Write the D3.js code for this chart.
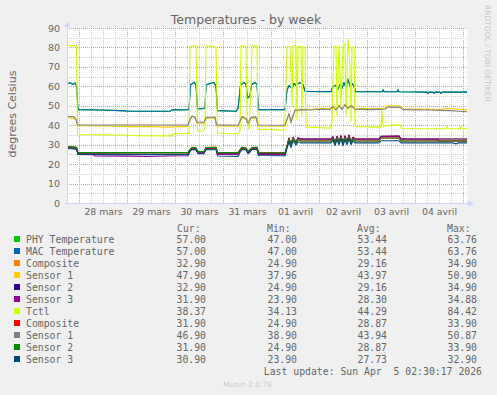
<!DOCTYPE html>
<html><head><meta charset="utf-8">
<script src="https://cdn.jsdelivr.net/npm/d3@7/dist/d3.min.js"></script>
<style>html,body{margin:0;padding:0;background:#f0f0f0;}svg{display:block;}</style>
</head><body>
<script>
// ---------- data (hours since 27 mars 18:00, value °C) ----------
const dayLabels = ["28 mars","29 mars","30 mars","31 mars","01 avril","02 avril","03 avril","04 avril"];
const yTicks = [0,10,20,30,40,50,60,70,80,90];

const macTemp = [[0,61.2],[1.5,61.8],[3,61],[4,61.8],[4.75,60.5],[5.5,48],[16.5,47.8],[26.5,47.5],[31.5,47.2],[51.5,47.2],[52.5,47.9],[61,48],[61.75,60.8],[63.5,62],[64.5,60.8],[65.25,48.5],[68,48.5],[69,49],[69.5,60.8],[71.5,61.5],[73.5,62],[74.5,60],[75.25,47.5],[84.5,47.2],[85.5,48.5],[86.75,60.5],[88.5,62],[89.5,61],[90.25,54],[91.5,55],[92.25,60.8],[94,62],[95,61],[95.75,48],[109,48],[110,58],[111,60.5],[112.5,59],[113.5,61.5],[114.5,60.5],[116.5,62],[118,61],[119,57.4],[132,57.3],[133,60],[134.5,60.5],[135.5,58.5],[136.5,61],[137.5,59],[138.5,62],[139.5,59],[140.5,63.7],[141.5,60],[142.5,61.5],[143.5,60],[144.25,57.3],[157.5,57.2],[158,58.2],[158.5,57.2],[165,57.2],[165.5,58.2],[166,57.2],[180,57],[180.5,56.3],[181,57],[183,57],[183.5,56.3],[184,57],[186.5,57],[187,56.3],[187.5,57],[200,57]];
const phyTemp = macTemp.map(d => d.slice());

const tctl = [[0,81],[4.75,80.8],[5.25,35.2],[26.5,35],[36.5,34.6],[52.5,34.5],[53,35.6],[61,35.8],[61.5,80.5],[64.5,80.8],[65.25,38],[65.5,37],[68,37],[69,38.5],[69.5,80.8],[73,80.5],[74.5,80],[75.25,36],[85.5,35.5],[86.5,37],[87,80.8],[89.5,80.5],[90,45],[91,38],[92,60],[92.5,80.8],[95,80.8],[95.5,38],[108,37.5],[109,41],[110,80.5],[111.5,80.5],[112.5,50],[113,81],[114.5,81],[115,43],[115.5,80.5],[117,80.5],[117.5,45],[118,80.5],[119,80],[119.5,39],[131.5,38.5],[132.5,42],[133.5,80.5],[134.5,81],[135,45],[136,81],[137,50],[138,80.5],[139,82],[139.5,45],[140.5,84.4],[141.5,70],[142,42],[142.5,80.5],[143.5,80],[144,40],[144.5,39.3],[157,39],[157.5,47.5],[158,39.5],[159.5,39.5],[160.5,40],[166.5,40.2],[167.5,38.3],[189.5,38.2],[190,39.5],[190.5,38.2],[196.5,38.2],[197,39.5],[197.5,38.3],[200,38.4]];

const sensor1A = [[0,44.3],[4.5,43],[5.25,39.7],[20,39.6],[30,39.3],[40,39.4],[50,39],[60.5,39.4],[61.5,42.5],[62.5,44.5],[64,43.8],[65,41],[68.5,41],[69.5,43.5],[74,43.8],[74.75,39.6],[85.5,39.5],[86.5,41.5],[87.5,44],[89.5,43],[90.5,40.5],[92,43.5],[94.5,43.8],[95.5,39.6],[109,39.5],[110,42.5],[111,45.5],[112,41],[113,44.5],[114,48],[121.5,48.2],[126.5,48.6],[131.5,48.5],[133,50],[134.5,48.2],[136,50.3],[137.5,48.5],[139,50.9],[140.5,49],[142,50.4],[144,48.7],[151.5,48.5],[159,48.8],[160.5,50],[166.5,50],[168,48.5],[181,48.3],[185,47.9],[190,48.6],[200,47.9]];
const sensor1B = [[0,44.6],[3.5,44.3],[4.5,43],[5.25,40.2],[60.5,40.1],[61.5,43],[62.5,44.8],[64,44],[65,41.5],[68.5,41.5],[69.5,44],[74,44.2],[74.75,40.2],[85.5,40],[86.5,42],[87.5,44.5],[89.5,43.5],[90.5,41],[92,44],[94.5,44.3],[95.5,40.1],[109,40],[110,43],[111,46],[112,41.5],[113,45],[114,47.5],[116.5,48],[121.5,47.8],[126.5,48.2],[131.5,48],[133,49.5],[134.5,47.8],[136,50],[137.5,48],[139,50.5],[140.5,48.5],[142,50],[144,48.3],[151.5,48],[159,48.3],[160.5,49.3],[166.5,49.2],[168,48],[181.5,47.8],[191.5,47.5],[200,46.9]];

const composite1 = [[0,28.9],[3,28.5],[4.75,28.3],[5.5,25.4],[20,25.2],[40,25],[60.5,25.2],[61.5,27],[62.5,28.3],[64.5,28],[65.5,26.2],[68.5,26.2],[69.5,28.2],[74.5,28.4],[75.25,25.4],[85.5,25.3],[86.5,27],[87.5,28.3],[89.5,28],[90.5,26.2],[91.5,26.3],[92.5,28.3],[95,28.4],[95.75,25.4],[109,25.4],[110,29.2],[111,33.4],[112,30],[113,33.8],[114.5,31.2],[115.5,33.5],[117,32.9],[132,32.9],[133,34],[134,31],[135,34.3],[136,31.5],[137,34.5],[138,31],[139,34.5],[140,31.5],[141,34.9],[142,31.5],[143,33.8],[144,32.9],[156,32.9],[157,34.3],[166,34.4],[167,32.9],[200,32.9]];
const sensor2A = composite1.map(d => d.slice());
const sensor3A = [[0,28.6],[4.75,28.2],[5.5,25],[13,24.9],[14,24.2],[30,24.1],[40,23.9],[50,24.2],[60.5,24.3],[61.5,26.5],[62.5,28],[64.5,27.8],[65.5,25.8],[68.5,25.8],[69.5,28],[74.5,28.2],[75.25,25],[85.5,25],[86.5,26.8],[87.5,28],[89.5,27.8],[90.5,25.8],[92.5,28],[95,28.2],[95.75,25],[109,24.9],[110,29],[111,33.2],[112,29.8],[113,33.5],[114.5,31],[115.5,33.3],[117,32.8],[132,32.8],[133,34],[134,30.8],[135,34.2],[136,31.3],[137,34.5],[138,30.8],[139,34.3],[140,31.3],[141,34.88],[142,31.3],[143,33.6],[144,32.8],[156,32.8],[157,34.2],[166,34.3],[167,32.8],[185,32.8],[186,31.9],[200,31.9]];
const composite2 = [[0,29],[4.75,28.6],[5.5,25.9],[30,25.9],[60.5,25.9],[61.5,27.5],[62.5,28.6],[64.5,28.3],[65.5,26.5],[68.5,26.5],[69.5,28.5],[74.5,28.6],[75.25,25.9],[85.5,25.9],[86.5,27.3],[87.5,28.6],[89.5,28.3],[90.5,26.5],[92.5,28.5],[95,28.6],[95.75,25.9],[109,25.8],[110,29],[111,32.8],[112,29.5],[113,33.2],[114.5,30.8],[115.5,32.8],[117,31.9],[132,31.9],[133,33.3],[134,30.5],[135,33.5],[136,31],[137,33.9],[138,30.5],[139,33.6],[140,31],[141,33.9],[142,31],[143,33],[144,31.9],[156,31.9],[157,33.4],[166,33.4],[167,31.9],[200,31.9]];
const sensor2B = composite2.map(d => d.slice());
const sensor3B = [[0,28],[4.75,27.7],[5.5,25],[30,24.9],[60.5,24.9],[61.5,26.5],[62.5,27.6],[64.5,27.3],[65.5,25.4],[68.5,25.4],[69.5,27.5],[74.5,27.4],[75.25,24.2],[85.5,24],[86.5,26],[87.5,27.5],[89.5,27.3],[90.5,25.3],[92.5,27.5],[95,27.5],[95.75,24.4],[109,24.3],[110,28],[111,31.5],[112,28.5],[113,32],[114.5,29.8],[115.5,31.5],[117,30.9],[132,30.9],[133,32.3],[134,29.5],[135,32.5],[136,30],[137,32.9],[138,29.5],[139,32.5],[140,30],[141,32.9],[142,30],[143,32],[144,30.9],[156,30.9],[157,32],[166,32],[167,30.9],[193,30.9],[194.5,30.4],[195.5,30.9],[200,30.9]];

const seriesNames = ["PHY Temperature","MAC Temperature","Composite","Sensor 1","Sensor 2","Sensor 3","Tctl","Composite","Sensor 1","Sensor 2","Sensor 3"];
const seriesColors = ["#00cc00","#0066b3","#ff8000","#ffcc00","#330099","#990099","#ccff00","#ff0000","#808080","#008f00","#00487d"];
const seriesData = [phyTemp, macTemp, composite1, sensor1A, sensor2A, sensor3A, tctl, composite2, sensor1B, sensor2B, sensor3B];
const curVals = ["57.00","57.00","32.90","47.90","32.90","31.90","38.37","31.90","46.90","31.90","30.90"];
const minVals = ["47.00","47.00","24.90","37.96","24.90","23.90","34.13","24.90","38.90","24.90","23.90"];
const avgVals = ["53.44","53.44","29.16","43.97","29.16","28.30","44.29","28.87","43.94","28.87","27.73"];
const maxVals = ["63.76","63.76","34.90","50.90","34.90","34.88","84.42","33.90","50.87","33.90","32.90"];

// ---------- drawing ----------
const W = 497, H = 395;
const L = 67, R = 467, T = 28, B = 203;
const start = Date.UTC(2026, 2, 27, 18, 0, 0);
const toDate = h => new Date(start + h * 3600e3);

const svg = d3.select("body").append("svg").attr("width", W).attr("height", H)
  .style("font-family", "'DejaVu Sans', sans-serif");
svg.append("rect").attr("width", W).attr("height", H).attr("fill", "#f0f0f0");

const x = d3.scaleUtc().domain([toDate(0), toDate(200)]).range([L, R]);
const y = d3.scaleLinear().domain([0, 90]).range([B, T]);

svg.append("rect").attr("x", L).attr("y", T).attr("width", R - L).attr("height", B - T).attr("fill", "#fff");

// grid
const g = svg.append("g");
const minorX = d3.range(0, 200, 6).map(toDate);
minorX.forEach(d => {
  const isMajor = d.getUTCHours() === 0;
  const px = Math.round(x(d)) + 0.5;
  g.append("line").attr("x1", px).attr("x2", px).attr("y1", T).attr("y2", B)
    .attr("stroke", isMajor ? "#e89a9a" : "#cfcfcf").attr("stroke-dasharray", "1,1");
});
d3.range(5, 91, 5).forEach(v => {
  const py = Math.round(y(v)) + 0.5;
  const isMajor = v % 10 === 0;
  g.append("line").attr("x1", L).attr("x2", R).attr("y1", py).attr("y2", py)
    .attr("stroke", isMajor ? "#e89a9a" : "#cfcfcf").attr("stroke-dasharray", "1,1");
});

// series
svg.append("clipPath").attr("id", "clip").append("rect").attr("x", L).attr("y", T - 2).attr("width", R - L).attr("height", B - T + 2);
const line = d3.line().x(d => x(toDate(d[0]))).y(d => y(d[1]));
const lines = svg.append("g").attr("clip-path", "url(#clip)");
seriesData.forEach((data, i) => {
  lines.append("path").attr("d", line(data)).attr("fill", "none")
    .attr("stroke", seriesColors[i]).attr("stroke-width", 1.1).attr("stroke-linejoin", "round");
});

// axes lines + arrows
const axisCol = "#cfd6f8";
svg.append("line").attr("x1", L + 0.5).attr("x2", L + 0.5).attr("y1", B + 2).attr("y2", T - 4).attr("stroke", axisCol);
svg.append("line").attr("x1", L - 2).attr("x2", R + 3).attr("y1", B + 0.5).attr("y2", B + 0.5).attr("stroke", axisCol);
svg.append("path").attr("d", `M${L + 0.5},${T - 7} L${L + 3.5},${T - 1} L${L - 2.5},${T - 1} Z`).attr("fill", axisCol);
svg.append("path").attr("d", `M${R + 7},${B + 0.5} L${R + 1},${B + 3.5} L${R + 1},${B - 2.5} Z`).attr("fill", axisCol);

// y axis labels
const yAxis = d3.axisLeft(y).tickValues(yTicks).tickSize(0).tickPadding(7);
const ya = svg.append("g").attr("transform", `translate(${L},0)`).call(yAxis);
ya.select(".domain").remove();
ya.selectAll("text").attr("fill", "#666").style("font-size", "9.5px").style("font-family", "'DejaVu Sans', sans-serif");

// x axis labels
const noonTicks = dayLabels.map((_, i) => toDate(18 + 24 * i));
const xAxis = d3.axisBottom(x).tickValues(noonTicks).tickSize(0).tickPadding(5)
  .tickFormat((d, i) => dayLabels[i]);
const xa = svg.append("g").attr("transform", `translate(0,${B})`).call(xAxis);
xa.select(".domain").remove();
xa.selectAll("text").attr("fill", "#666").style("font-size", "9.3px").style("font-family", "'DejaVu Sans', sans-serif");

// titles
svg.append("text").attr("x", 246).attr("y", 24).attr("text-anchor", "middle")
  .attr("fill", "#666").style("font-size", "12.5px").text("Temperatures - by week");
svg.append("text").attr("transform", "translate(16,114) rotate(-90)").attr("text-anchor", "middle")
  .attr("fill", "#666").style("font-size", "11px").text("degrees Celsius");
svg.append("text").attr("transform", "translate(485,5) rotate(90)").attr("text-anchor", "start")
  .attr("fill", "#c8c8c8").style("font-size", "7.5px").text("RRDTOOL / TOBI OETIKER");

// legend
const mono = "'DejaVu Sans Mono', monospace";
const lg = svg.append("g").style("font-family", mono).style("font-size", "9.8px").attr("fill", "#666");
const headers = [["Cur:", 177], ["Min:", 267], ["Avg:", 357], ["Max:", 447]];
headers.forEach(([t, hx]) => lg.append("text").attr("x", hx).attr("y", 232).text(t));
const colsX = [206, 297, 387, 477];
seriesNames.forEach((name, i) => {
  const by = 243 + 12 * i;
  lg.append("rect").attr("x", 14).attr("y", by - 7).attr("width", 6).attr("height", 6).attr("fill", seriesColors[i]);
  lg.append("text").attr("x", 26).attr("y", by).text(name);
  [curVals, minVals, avgVals, maxVals].forEach((arr, c) => {
    lg.append("text").attr("x", colsX[c]).attr("y", by).attr("text-anchor", "end").text(arr[i]);
  });
});
lg.append("text").attr("x", 482).attr("y", 375).attr("text-anchor", "end").style("white-space", "pre")
  .text("Last update: Sun Apr  5 02:30:17 2026");
svg.append("text").attr("x", 247.5).attr("y", 387).attr("text-anchor", "middle")
  .attr("fill", "#cccccc").style("font-size", "7.5px").text("Munin 2.0.76");
</script>
</body></html>
